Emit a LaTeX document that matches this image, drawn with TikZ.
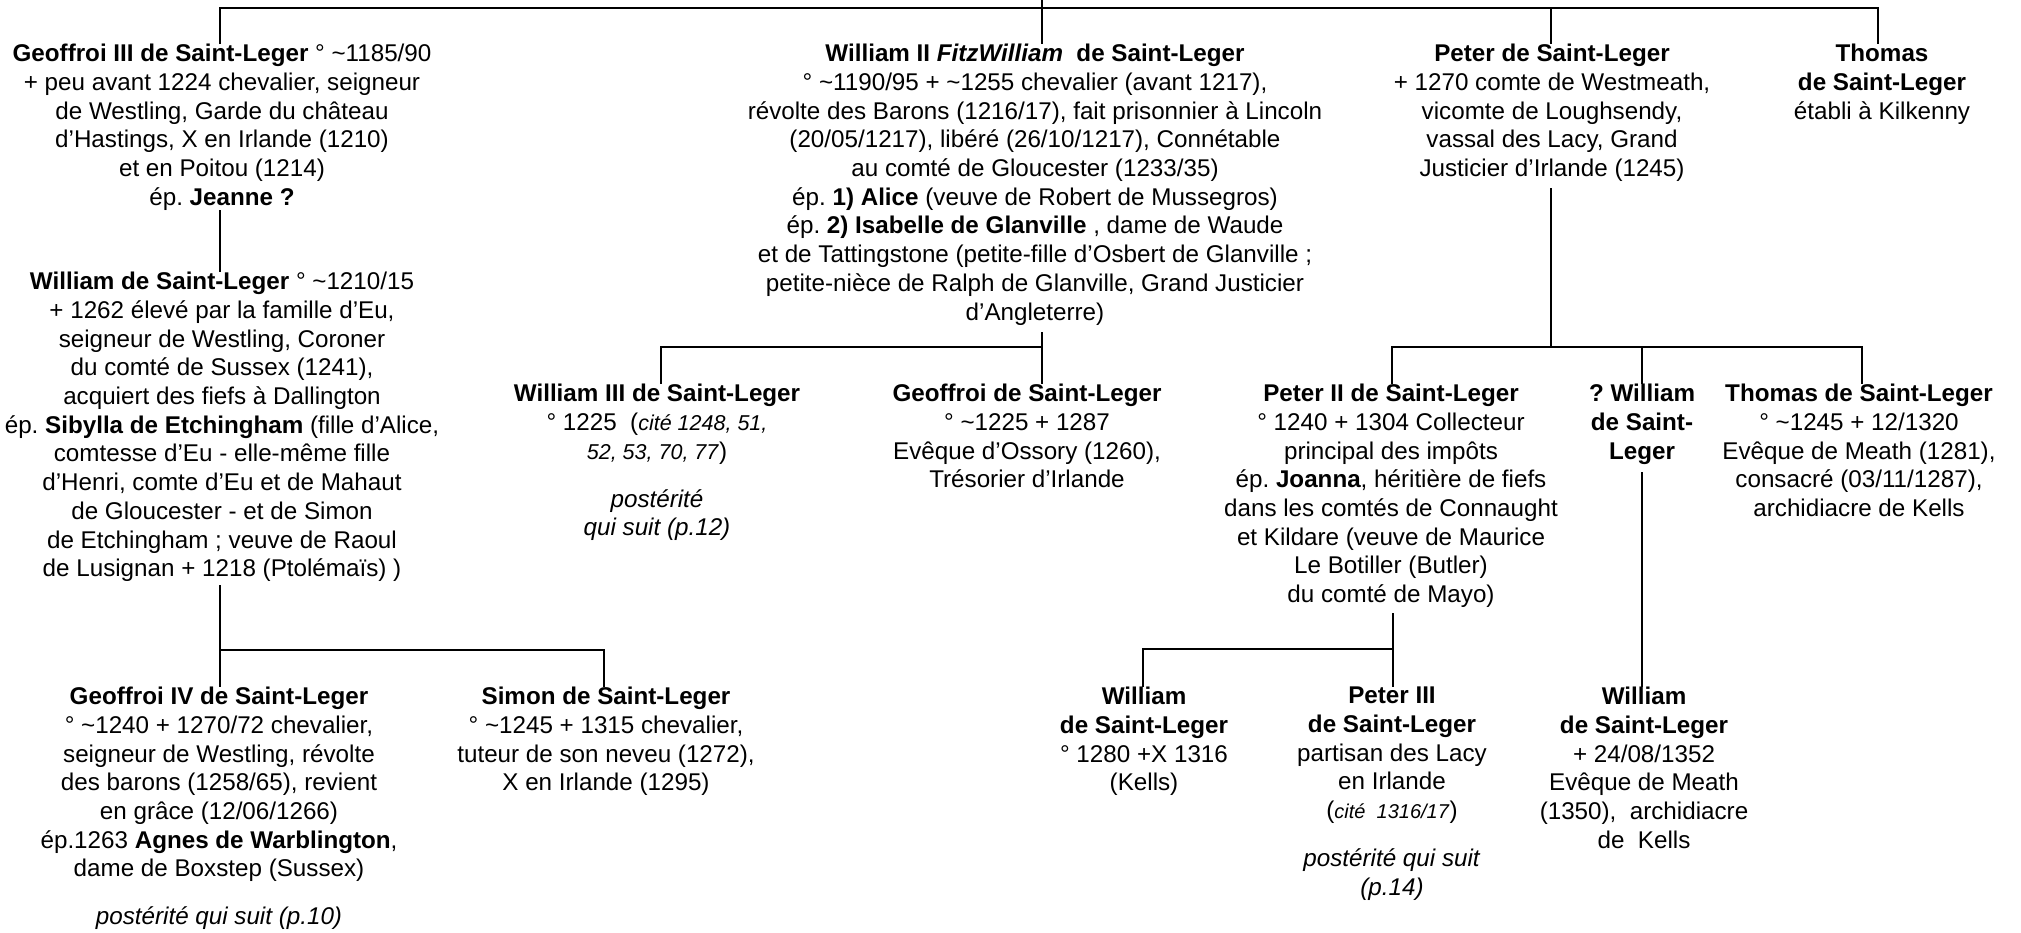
\documentclass[tikz,border=0pt]{standalone}
\usepackage{fontspec}
\setmainfont{Liberation Sans}
\frenchspacing
\newcommand{\tld}{\textasciitilde}
\newcommand{\smit}[2]{{\fontsize{#1}{28.7}\selectfont\textit{#2}}}
\begin{document}
\begin{tikzpicture}[x=1pt,y=-1pt,
  link/.style={line width=2.6pt, draw=black},
  person/.style={anchor=north, align=center, inner sep=0pt,
    font=\fontsize{24.2}{28.7}\selectfont\frenchspacing, execute at begin node=\strut}]
\useasboundingbox (0,0) rectangle (2021,932);

% ---- row 1
\node[person] (gIII) at (222,44) {\textbf{Geoffroi III de Saint-Leger} ° \tld1185/90\\+ peu avant 1224 chevalier, seigneur\\de Westling, Garde du château\\d’Hastings, X en Irlande (1210)\\et en Poitou (1214)\\ép. \textbf{Jeanne ?}};
\node[person] (wII) at (1035,44) {\textbf{William II \textit{FitzWilliam}\ \ de Saint-Leger}\\° \tld1190/95 + \tld1255 chevalier (avant 1217),\\révolte des Barons (1216/17), fait prisonnier à Lincoln\\(20/05/1217), libéré (26/10/1217), Connétable\\au comté de Gloucester (1233/35)\\ép. \textbf{1) Alice} (veuve de Robert de Mussegros)\\ép. \textbf{2) Isabelle de Glanville} , dame de Waude\\et de Tattingstone (petite-fille d’Osbert de Glanville ;\\petite-nièce de Ralph de Glanville, Grand Justicier\\d’Angleterre)};
\node[person] (pe) at (1552,44) {\textbf{Peter de Saint-Leger}\\+ 1270 comte de Westmeath,\\vicomte de Loughsendy,\\vassal des Lacy, Grand\\Justicier d’Irlande (1245)};
\node[person] (th) at (1882,44) {\textbf{Thomas}\\\textbf{de Saint-Leger}\\établi à Kilkenny};

% ---- William (gen 2, left)
\node[person] (wm) at (222,272) {\textbf{William de Saint-Leger} ° \tld1210/15\\+ 1262 élevé par la famille d’Eu,\\seigneur de Westling, Coroner\\du comté de Sussex (1241),\\acquiert des fiefs à Dallington\\ép. \textbf{Sibylla de Etchingham} (fille d’Alice,\\comtesse d’Eu - elle-même fille\\d’Henri, comte d’Eu et de Mahaut\\de Gloucester - et de Simon\\de Etchingham ; veuve de Raoul\\de Lusignan + 1218 (Ptolémaïs) )};

% ---- row 2
\node[person] (wIII) at (657,384) {\textbf{William III de Saint-Leger}\\° 1225\ \ (\smit{21.5}{cité 1248, 51,}\\\smit{21.5}{52, 53, 70, 77})\\[19.3pt]\textit{postérité}\\\textit{qui suit (p.12)}};
\node[person] (ge) at (1027,384) {\textbf{Geoffroi de Saint-Leger}\\° \tld1225 + 1287\\Evêque d’Ossory (1260),\\Trésorier d’Irlande};
\node[person] (pII) at (1391,384) {\textbf{Peter II de Saint-Leger}\\° 1240 + 1304 Collecteur\\principal des impôts\\ép. \textbf{Joanna}, héritière de fiefs\\dans les comtés de Connaught\\et Kildare (veuve de Maurice\\Le Botiller (Butler)\\du comté de Mayo)};
\node[person] (qw) at (1642,384) {\textbf{? William}\\\textbf{de Saint-}\\\textbf{Leger}};
\node[person] (thII) at (1859,384) {\textbf{Thomas de Saint-Leger}\\° \tld1245 + 12/1320\\Evêque de Meath (1281),\\consacré (03/11/1287),\\archidiacre de Kells};

% ---- row 3
\node[person] (gIV) at (219,687) {\textbf{Geoffroi IV de Saint-Leger}\\° \tld1240 + 1270/72 chevalier,\\seigneur de Westling, révolte\\des barons (1258/65), revient\\en grâce (12/06/1266)\\ép.1263 \textbf{Agnes de Warblington},\\dame de Boxstep (Sussex)\\[19.3pt]\textit{postérité qui suit (p.10)}};
\node[person] (si) at (606,687) {\textbf{Simon de Saint-Leger}\\° \tld1245 + 1315 chevalier,\\tuteur de son neveu (1272),\\X en Irlande (1295)};
\node[person] (wb) at (1144,687) {\textbf{William}\\\textbf{de Saint-Leger}\\° 1280 +X 1316\\(Kells)};
\node[person] (pIII) at (1392,687) {\textbf{Peter III}\\\textbf{de Saint-Leger}\\partisan des Lacy\\en Irlande\\(\smit{20}{cité\ \ 1316/17})\\[19.3pt]\textit{postérité qui suit}\\\textit{(p.14)}};
\node[person] (wc) at (1644,687) {\textbf{William}\\\textbf{de Saint-Leger}\\+ 24/08/1352\\Evêque de Meath\\(1350),\ \ archidiacre\\de\ \ Kells};

% ---- connector coordinates
\coordinate (root) at (1042,-3);
\coordinate (barL) at (220,8);
\coordinate (barR) at (1878,8);
\coordinate (gIIIo) at (220,210);
\coordinate (wmo) at (220,585);
\coordinate (wmbar) at (220,650);
\coordinate (wIIo) at (1042,332);
\coordinate (wIIbar) at (1042,347);
\coordinate (peo) at (1551,188);
\coordinate (pebar) at (1551,347);
\coordinate (qwo) at (1642,472);
\coordinate (pIIo) at (1393,613);
\coordinate (pIIbar) at (1393,649);

% ---- connectors
\draw[link] (root) -- (1042,0 |- wII.north);
\draw[link] (220,0 |- gIII.north) -- (barL) -- (barR) -- (1878,0 |- th.north);
\draw[link] (1551,8) -- (1551,0 |- pe.north);
\draw[link] (gIIIo) -- (220,0 |- wm.north);
\draw[link] (wmo) -- (220,0 |- gIV.north);
\draw[link] (wmbar) -- (604,650) -- (604,0 |- si.north);
\draw[link] (wIIo) -- (1042,0 |- ge.north);
\draw[link] (wIIbar) -- (661,347) -- (661,0 |- wIII.north);
\draw[link] (peo) -- (pebar);
\draw[link] (1392,0 |- pII.north) -- (1392,347) -- (1862,347) -- (1862,0 |- thII.north);
\draw[link] (1642,347) -- (1642,0 |- qw.north);
\draw[link] (qwo) -- (1642,0 |- wc.north);
\draw[link] (pIIo) -- (1393,0 |- pIII.north);
\draw[link] (pIIbar) -- (1143,649) -- (1143,0 |- wb.north);
\end{tikzpicture}
\end{document}
